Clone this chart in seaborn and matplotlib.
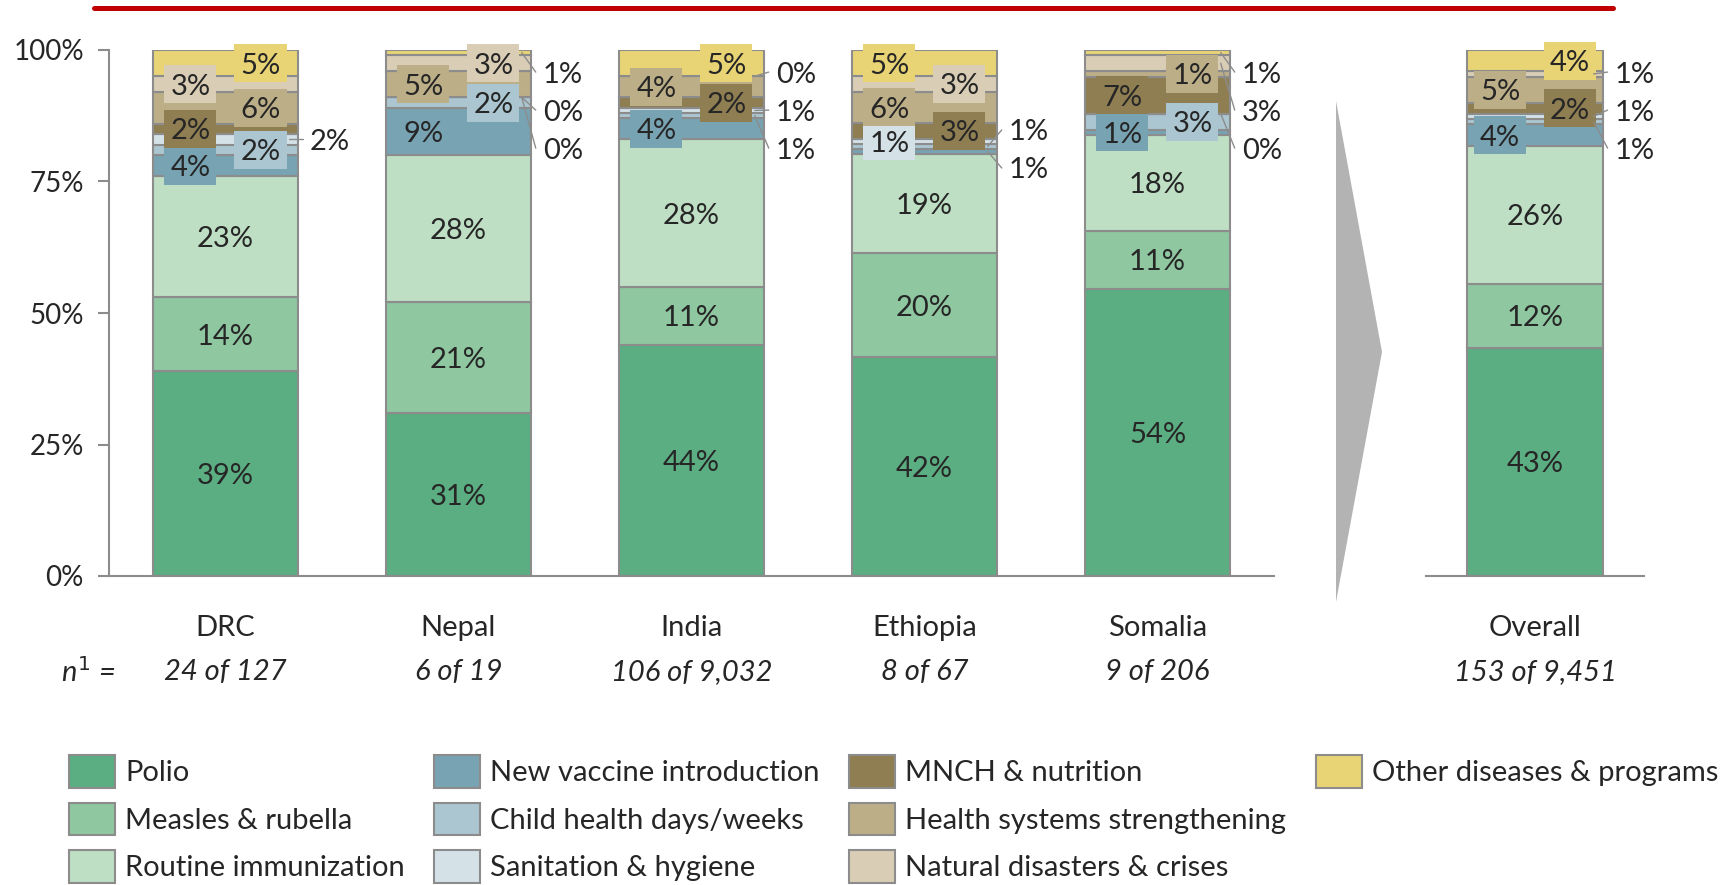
import numpy as np
import pandas as pd
import matplotlib
matplotlib.use("Agg")
import matplotlib.pyplot as plt
from matplotlib.patches import Patch, Rectangle, Polygon
from matplotlib.lines import Line2D
import seaborn as sns

countries = ["DRC", "Nepal", "India", "Ethiopia", "Somalia"]
n_labels = ["24 of 127", "6 of 19", "106 of 9,032", "8 of 67", "9 of 206"]
overall_name = "Overall"
overall_n = "153 of 9,451"

programs = ["Polio", "Measles & rubella", "Routine immunization",
            "New vaccine introduction", "Child health days/weeks",
            "Sanitation & hygiene", "MNCH & nutrition",
            "Health systems strengthening", "Natural disasters & crises",
            "Other diseases & programs"]
colors = ["#5BAD82", "#8EC7A0", "#BEDFC4", "#78A3B3", "#ABC6D0",
          "#D4E1E7", "#8F7E52", "#BCAE87", "#D9CDB6", "#E8D474"]

# shares in % (DRC, Nepal, India, Ethiopia, Somalia)
polio = [39, 31, 44, 42, 54]
measles = [14, 21, 11, 20, 11]
routine = [23, 28, 28, 19, 18]
new_vaccine = [4, 9, 4, 1, 1]
child_health = [2, 2, 1, 1, 3]
sanitation = [2, 0, 1, 1, 0]
mnch = [2, 0, 2, 3, 7]
hss = [6, 5, 4, 6, 1]
disasters = [3, 3, 0, 3, 3]
other = [5, 1, 5, 5, 1]

overall = [43, 12, 26, 4, 1, 1, 2, 5, 1, 4]

# where each label goes: C centre, L/R box left/right, X callout
place = ["CCCLRXLRLR", "CCCLRXXLRX", "CCCLXXRLXR", "CCCXXLRLRL", "CCCLRXLRXX"]
place_overall = "CCCLXXRLXR"

EDGE = "#8C8C8C"
FS = 21
TFS = 20
PX_PCT = 526 / 100.0
BAR_W = 0.62


def label_bar(ax, xc, shares, place_str, px_unit):
    shares = np.array(shares, dtype=float)
    h = shares / shares.sum() * 100
    tops = np.cumsum(h)
    mids = tops - h / 2
    off = 35 / px_unit
    box_w = 52 / px_unit
    box_h = 38 / PX_PCT
    half = BAR_W / 2
    calls = []
    for i, p in enumerate(place_str):
        txt = "%d%%" % shares[i]
        if p == "C":
            ax.text(xc, mids[i], txt, ha="center", va="center_baseline", fontsize=FS,
                    zorder=5)
        elif p in "LR":
            cx = xc - off if p == "L" else xc + off
            ax.add_patch(Rectangle((cx - box_w / 2, mids[i] - box_h / 2), box_w, box_h,
                                   facecolor=colors[i], edgecolor="none", zorder=4,
                                   clip_on=False))
            ax.text(cx, mids[i], txt, ha="center", va="center_baseline", fontsize=FS,
                    zorder=5, clip_on=False)
        else:
            calls.append(i)
    calls = calls[::-1]
    if calls:
        k = len(calls)
        gap = 38 / PX_PCT
        ys = mids[calls].mean() + gap * ((k - 1) / 2 - np.arange(k))
        ys -= max(0, ys[0] - 95.8)
        for i, y in zip(calls, ys):
            ax.plot([xc + half - 9 / px_unit, xc + half + 5 / px_unit], [mids[i], y],
                    color=EDGE, lw=1, zorder=6, clip_on=False)
            ax.text(xc + half + 12 / px_unit, y, "%d%%" % shares[i], ha="left",
                    va="center_baseline", fontsize=FS, clip_on=False)


def stacked(ax, df, order):
    bottom = np.zeros(len(order))
    for prog, col in zip(programs, colors):
        sub = df[df["program"] == prog].set_index("country").loc[order].reset_index()
        sns.barplot(data=sub, x="country", y="height", order=order, color=col,
                    saturation=1, width=BAR_W, errorbar=None, bottom=bottom,
                    edgecolor=EDGE, linewidth=1.5, ax=ax)
        bottom = bottom + sub["height"].to_numpy()


sns.set_theme(style="white")
plt.rcParams["font.family"] = ["Lato", "DejaVu Sans"]

table = np.array([polio, measles, routine, new_vaccine, child_health,
                  sanitation, mnch, hss, disasters, other], dtype=float)
rows = []
for j, c in enumerate(countries):
    tot = table[:, j].sum()
    for i, p in enumerate(programs):
        rows.append((c, p, table[i, j] / tot * 100))
df = pd.DataFrame(rows, columns=["country", "program", "height"])
ov = np.array(overall, dtype=float)
df_ov = pd.DataFrame({"country": overall_name, "program": programs,
                      "height": ov / ov.sum() * 100})

fig = plt.figure(figsize=(17.31, 8.85), dpi=100)
ax1 = fig.add_axes([109 / 1731, 309 / 885, 1165 / 1731, 526 / 885])
ax2 = fig.add_axes([1426 / 1731, 309 / 885, 218 / 1731, 526 / 885])

stacked(ax1, df, countries)
stacked(ax2, df_ov, [overall_name])

for ax, n in [(ax1, 5), (ax2, 1)]:
    ax.set_xlim(-0.5, n - 0.5)
    ax.set_ylim(0, 100)
    ax.set_xlabel("")
    ax.set_ylabel("")
    ax.set_xticks(range(n))
    ax.set_xticklabels([])
    ax.set_xticks(np.arange(n + 1) - 0.5, minor=True)
    ax.tick_params(axis="x", which="major", length=0)
    ax.tick_params(axis="x", which="minor", length=8, width=1.5, color=EDGE,
                   direction="out")
    for s in ["top", "right"]:
        ax.spines[s].set_visible(False)
    ax.spines["bottom"].set_color(EDGE)
    ax.spines["bottom"].set_linewidth(1.5)
    ax.spines["left"].set_color(EDGE)
    ax.spines["left"].set_linewidth(1.5)

ax1.set_yticks([0, 25, 50, 75, 100])
ax1.set_yticklabels(["0%", "25%", "50%", "75%", "100%"], fontsize=TFS)
ax1.tick_params(axis="y", length=8, width=1.5, color=EDGE, direction="out", pad=10,
                left=True)
ax2.spines["left"].set_visible(False)
ax2.set_yticks([])

for j, c in enumerate(countries):
    label_bar(ax1, j, table[:, j], place[j], 233)
    ax1.text(j, -0.099, c, transform=ax1.get_xaxis_transform(), ha="center",
             va="center", fontsize=FS)
    ax1.text(j, -0.1825, n_labels[j], transform=ax1.get_xaxis_transform(),
             ha="center", va="center", fontsize=FS, style="italic")
label_bar(ax2, 0, ov, place_overall, 218)
ax2.text(0, -0.099, overall_name, transform=ax2.get_xaxis_transform(), ha="center",
         va="center", fontsize=FS)
ax2.text(0, -0.1825, overall_n, transform=ax2.get_xaxis_transform(), ha="center",
         va="center", fontsize=FS, style="italic")
fig.text(88 / 1731, 1 - 672 / 885, "$n^{1}$ =", ha="center", va="center", fontsize=FS,
         style="italic", math_fontfamily="custom")
plt.rcParams["mathtext.it"] = "Lato:italic"

# arrow between the panels and the red rule on top
fig.patches.append(Polygon([(1336 / 1731, 1 - 101 / 885), (1382 / 1731, 1 - 352 / 885),
                            (1336 / 1731, 1 - 602 / 885)], closed=True,
                           transform=fig.transFigure, facecolor="#B3B3B3",
                           edgecolor="none"))
fig.lines.append(Line2D([94 / 1731, 1613 / 1731], [1 - 8 / 885, 1 - 8 / 885],
                        transform=fig.transFigure, color="#C00000", lw=3.6))

handles = [Patch(facecolor=c, edgecolor=EDGE, linewidth=1.5, label=p)
           for p, c in zip(programs, colors)]
blank = Patch(facecolor="none", edgecolor="none", label="")
handles = handles + [blank, blank]
fig.legend(handles=handles, labels=[h.get_label() for h in handles], ncol=4,
           loc="upper left", bbox_to_anchor=(69 / 1731, 1 - 755 / 885), frameon=False,
           fontsize=FS, handlelength=1.58, handleheight=1.36, handletextpad=0.35,
           labelspacing=0.5, columnspacing=1.0, borderpad=0, borderaxespad=0)

fig.savefig("out.png", dpi=100)
